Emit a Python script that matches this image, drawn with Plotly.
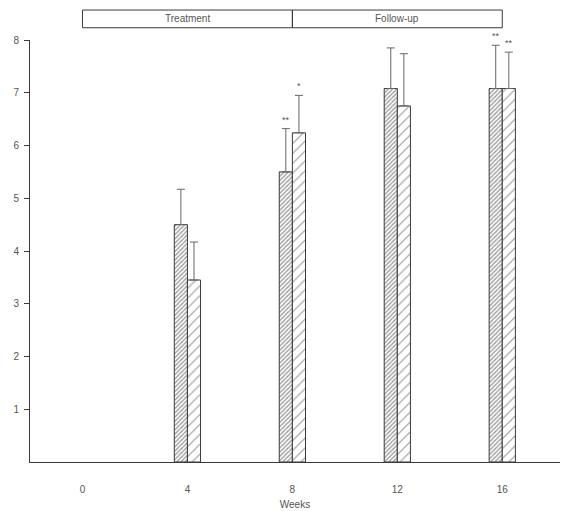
import plotly.graph_objects as go

weeks = [4, 8, 12, 16]
group1_mean = [4.50, 5.50, 7.08, 7.08]
group1_upper = [5.17, 6.32, 7.85, 7.90]
group2_mean = [3.45, 6.24, 6.75, 7.08]
group2_upper = [4.17, 6.95, 7.74, 7.77]
sig1 = ["", "**", "", "**"]
sig2 = ["", "*", "", "**"]
x_ticks = [0, 4, 8, 12, 16]
y_ticks = [1, 2, 3, 4, 5, 6, 7, 8]
phases = [("Treatment", 0, 8), ("Follow-up", 8, 16)]

ink = "#3a3a3a"
txt = "#555555"
font = "Liberation Sans, Arial, sans-serif"

fig = go.Figure()

def add_series(mean, upper, offset, size, solidity):
    fig.add_trace(go.Bar(
        x=weeks, y=mean, width=0.5, offset=offset,
        marker=dict(color="white", line=dict(color=ink, width=1),
                    pattern=dict(shape="/", size=size, solidity=solidity,
                                 fgcolor=ink, bgcolor="white")),
        error_y=dict(type="data", symmetric=False,
                     array=[u - m for u, m in zip(upper, mean)],
                     arrayminus=[0] * len(mean),
                     color="#666666", thickness=1, width=4),
        showlegend=False,
    ))

add_series(group1_mean, group1_upper, -0.5, 3, 0.45)
add_series(group2_mean, group2_upper, 0.0, 7, 0.17)

for w, u, s in zip(weeks, group1_upper, sig1):
    if s:
        fig.add_annotation(x=w - 0.25, y=u, text=s, showarrow=False,
                           yshift=9, font=dict(size=9, color=txt, family=font))
for w, u, s in zip(weeks, group2_upper, sig2):
    if s:
        fig.add_annotation(x=w + 0.25, y=u, text=s, showarrow=False,
                           yshift=9, font=dict(size=9, color=txt, family=font))

for label, x0, x1 in phases:
    fig.add_shape(type="rect", xref="x", yref="paper", x0=x0, x1=x1,
                  y0=1.029, y1=1.071, line=dict(color=ink, width=1),
                  fillcolor="rgba(0,0,0,0)", layer="below")
    fig.add_annotation(x=(x0 + x1) / 2, xref="x", y=1.05, yref="paper",
                       yanchor="middle", xanchor="center",
                       text=label, showarrow=False,
                       font=dict(size=10, color=txt, family=font))

# page body has an 8px default margin, so the figure is sized to fit after it
fig.update_layout(
    width=560, height=503,
    margin=dict(l=22, r=8, t=32, b=49, autoexpand=False),
    plot_bgcolor="white", paper_bgcolor="white",
    barmode="overlay",
    font=dict(family=font, size=10, color=txt),
    xaxis=dict(range=[-2, 18.2], tickvals=x_ticks, ticktext=[str(v) for v in x_ticks],
               showgrid=False, zeroline=False, showline=True, linecolor=ink,
               ticks="", ticklabelstandoff=18, automargin=False,
               title=dict(text="Weeks", standoff=6,
                          font=dict(size=10, color=txt, family=font))),
    yaxis=dict(range=[0, 8], tickvals=y_ticks, showgrid=False, zeroline=False,
               showline=True, linecolor=ink, ticks="outside", ticklen=5,
               tickcolor=ink, ticklabelstandoff=3, automargin=False),
)

fig.write_html("out.html")
